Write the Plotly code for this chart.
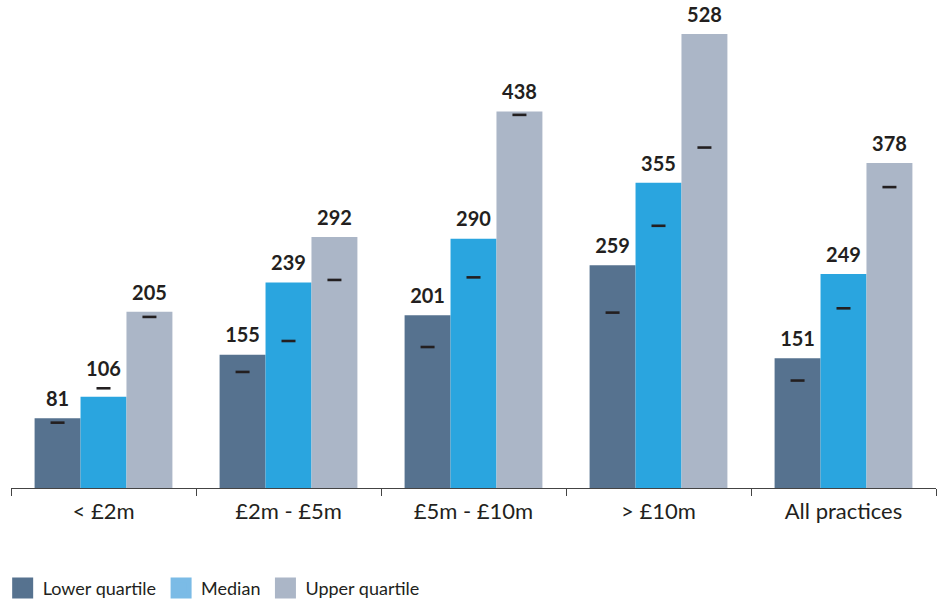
import plotly.graph_objects as go

categories = ["< £2m", "£2m - £5m", "£5m - £10m", "> £10m", "All practices"]
series_names = ["Lower quartile", "Median", "Upper quartile"]
lower_q = [81, 155, 201, 259, 151]
median = [106, 239, 290, 355, 249]
upper_q = [205, 292, 438, 528, 378]
# small dash markers (comparison values)
lower_q_mark = [76, 135, 164, 204, 125]
median_mark = [116, 171, 245, 305, 209]
upper_q_mark = [199, 242, 434, 396, 350]

colors = ["#56728f", "#2aa5df", "#abb6c7"]
legend_colors = ["#56728f", "#7bbbe6", "#abb6c7"]
FONT = "Lato"
TXT = "#231f20"

values = [lower_q, median, upper_q]
marks = [lower_q_mark, median_mark, upper_q_mark]

fig = go.Figure()
for i, (name, vals) in enumerate(zip(series_names, values)):
    fig.add_trace(go.Bar(
        x=categories, y=vals, name=name, marker_color=colors[i],
        marker_line_width=0, offsetgroup=str(i), alignmentgroup="a",
        showlegend=False,
    ))
for i, mk in enumerate(marks):
    fig.add_trace(go.Scatter(
        x=categories, y=mk, mode="markers", showlegend=False,
        offsetgroup=str(i), alignmentgroup="a",
        marker=dict(symbol="line-ew", size=10, line=dict(width=2.6, color=TXT)),
        hoverinfo="skip", cliponaxis=False,
    ))
# value labels placed above the taller of bar / marker
for i, (vals, mk) in enumerate(zip(values, marks)):
    fig.add_trace(go.Scatter(
        x=categories, y=[max(v, m) for v, m in zip(vals, mk)], mode="markers+text",
        marker=dict(size=10, opacity=0),
        text=[f"<b>{v}</b>" for v in vals], textposition="top center",
        textfont=dict(size=20, color=TXT, family=FONT),
        offsetgroup=str(i), alignmentgroup="a", showlegend=False,
        hoverinfo="skip", cliponaxis=False,
    ))
# legend entries
for i, name in enumerate(series_names):
    fig.add_trace(go.Scatter(
        x=[None], y=[None], mode="markers", name=name,
        marker=dict(symbol="square", size=16, color=legend_colors[i],
                    line=dict(width=5, color=legend_colors[i])),
        showlegend=True,
    ))

fig.update_layout(
    width=942, height=601,
    margin=dict(l=11, r=6, t=10, b=113, autoexpand=False),
    paper_bgcolor="white", plot_bgcolor="white",
    barmode="group", scattermode="group", bargap=0.255, bargroupgap=0,
    font=dict(family=FONT, color=TXT),
    showlegend=True,
    legend=dict(orientation="h", x=-0.009, xanchor="left", y=-0.21, yanchor="middle",
                font=dict(size=18, family=FONT, color=TXT),
                itemwidth=30, tracegroupgap=0, traceorder="normal"),
    xaxis=dict(showline=True, linecolor="#444", linewidth=1.2, ticks="outside",
               tickson="boundaries", ticklen=7, tickcolor="#444",
               ticklabelstandoff=3,
               tickfont=dict(size=22, family=FONT, color=TXT),
               showgrid=False, zeroline=False),
    yaxis=dict(visible=False, range=[0, 556], showgrid=False, zeroline=False),
)
fig.write_html("out.html")
